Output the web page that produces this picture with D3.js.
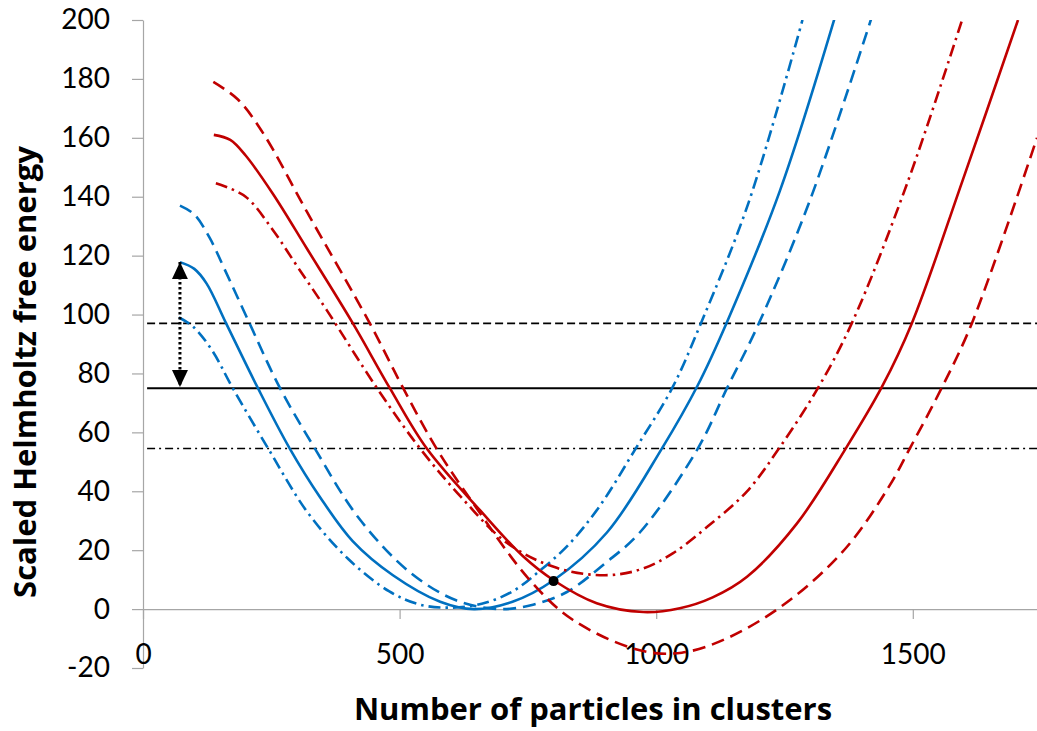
<!DOCTYPE html>
<html>
<head>
<meta charset="utf-8">
<script src="https://cdn.jsdelivr.net/npm/d3@7"></script>
<style>
  body { margin: 0; background: #fff; }
  text { font-family: Lato, "Open Sans", sans-serif; }
</style>
</head>
<body>
<svg id="chart"></svg>
<script>
// [particles, scaled free energy]
const blueSolid = [[72,117.8],[100,115.5],[124,110.5],[162,97],[224,75],[286,54.5],[345,38],[409,23],[487,11.5],[579,2.5],[645,0],[720,2.5],[800,9.8],[904,26],[1011,54.5],[1081,76],[1138,97.5],[1241,142],[1350,202]];
const blueDashed = [[72,137],[100,134],[130,126],[160,115],[205,98],[267,75],[335,54.5],[420,31],[520,12.5],[610,3],[695,0],[760,1.5],[826,5.8],[900,15.5],[968,26],[1081,54.5],[1138,75],[1200,97],[1300,139],[1420,201]];
const blueDashDot = [[70,99],[97,96],[134,88],[175,75],[244,54.5],[320,33],[400,17],[480,6],[540,1.5],[600,0.5],[660,1.8],[720,6],[773,13],[830,22],[890,35],[960,54.5],[1031,75],[1087,97],[1180,138],[1285,200]];
const redSolid = [[138,161],[170,159.3],[200,154],[253,141],[319,122.5],[409,97],[481,75],[553,54.5],[657,33.5],[740,18],[800,9.8],[884,2],[975,-1],[1046,0.3],[1110,4],[1177,11],[1274,29],[1371,55],[1440,75.5],[1498,97],[1598,146],[1705,200]];
const redDashed = [[137,179],[185,173],[234,161.6],[319,135],[442,97],[507,75],[572,54.5],[643,36],[754,9.8],[838,-3.7],[968,-14],[1050,-14.8],[1143,-9.5],[1260,3],[1371,21],[1455,42],[1494,54.5],[1556,75],[1615,97],[1742,160]];
const redDashDot = [[142,144.6],[200,140],[253,128.7],[300,116.5],[358,101.5],[456,75],[540,54.5],[620,38],[709,22.5],[806,14],[900,11.5],[970,13.5],[1033,19],[1100,28],[1177,40],[1241,55],[1315,75],[1381,97],[1490,145],[1596,200]];

const refLevels = [97, 75, 54.5];         // dashed, solid, dash-dot
const refStart = 8;
const arrowN = 72, arrowTop = 117.8, arrowBottom = 75.4;
const crossing = [800, 9.5];

const xTicks = [0, 500, 1000, 1500];
const yTicks = [-20, 0, 20, 40, 60, 80, 100, 120, 140, 160, 180, 200];
const xMax = 1742;

class FreeEnergyChart {
    constructor (config) {
        this.config = {
            parent: config.parent,
            width: config.width || 1037,
            height: config.height || 731,
            margin: config.margin || {top:20, right:0, bottom:63, left:143},
            xlabel: config.xlabel || '',
            ylabel: config.ylabel || ''
        };
        this.init();
    }

    init() {
        let self = this;
        const m = self.config.margin;

        self.svg = d3.select(self.config.parent)
            .attr('width', self.config.width)
            .attr('height', self.config.height);

        self.inner_width = self.config.width - m.left - m.right;
        self.inner_height = self.config.height - m.top - m.bottom;

        self.chart = self.svg.append('g')
            .attr('transform', `translate(${m.left}, ${m.top})`);

        self.xscale = d3.scaleLinear().domain([0, xMax]).range([0, self.inner_width]);
        self.yscale = d3.scaleLinear().domain([-20, 200]).range([self.inner_height, 0]);

        const defs = self.svg.append('defs');
        defs.append('clipPath').attr('id', 'plot-clip')
            .append('rect')
            .attr('x', 0).attr('y', 0)
            .attr('width', self.inner_width).attr('height', self.inner_height);

        defs.append('marker').attr('id', 'tri-up')
            .attr('markerUnits', 'userSpaceOnUse')
            .attr('markerWidth', 16).attr('markerHeight', 17)
            .attr('viewBox', '-8 0 16 17').attr('refX', 0).attr('refY', 0)
            .attr('orient', '0')
            .append('path').attr('d', 'M0,0L8,17L-8,17Z').attr('fill', 'black');
        defs.append('marker').attr('id', 'tri-down')
            .attr('markerUnits', 'userSpaceOnUse')
            .attr('markerWidth', 16).attr('markerHeight', 17)
            .attr('viewBox', '-8 -17 16 17').attr('refX', 0).attr('refY', 0)
            .attr('orient', '0')
            .append('path').attr('d', 'M0,0L8,-17L-8,-17Z').attr('fill', 'black');

        // plain hyphen for negatives, no thousands separator
        self.yaxis = d3.axisLeft(self.yscale)
            .tickValues(yTicks)
            .tickFormat(d => String(d))
            .tickSize(11)
            .tickSizeOuter(0)
            .tickPadding(22);

        self.xaxis = d3.axisBottom(self.xscale)
            .tickValues(xTicks)
            .tickFormat(d => String(d))
            .tickSize(10)
            .tickSizeOuter(0)
            .tickPadding(25);

        self.svg.append('text')
            .attr('transform', `translate(36, 372) rotate(-90)`)
            .attr('text-anchor', 'middle')
            .style('font-family', '"Open Sans", sans-serif')
            .style('font-size', '31px')
            .style('font-weight', 'bold')
            .text(self.config.ylabel);

        self.svg.append('text')
            .attr('x', 593)
            .attr('y', 720)
            .attr('text-anchor', 'middle')
            .style('font-family', '"Open Sans", sans-serif')
            .style('font-size', '31px')
            .style('font-weight', 'bold')
            .text(self.config.xlabel);
    }

    update() {
        let self = this;
        self.series = [
            {data: blueSolid,   color: '#0070C0', dash: null},
            {data: blueDashed,  color: '#0070C0', dash: '13,7'},
            {data: blueDashDot, color: '#0070C0', dash: '12,5,2.5,5'},
            {data: redSolid,    color: '#C00000', dash: null},
            {data: redDashed,   color: '#C00000', dash: '13,7'},
            {data: redDashDot,  color: '#C00000', dash: '12,5,2.5,5'}
        ];
        self.refs = [
            {v: refLevels[0], dash: '8,4', w: 1.6},
            {v: refLevels[1], dash: null, w: 2},
            {v: refLevels[2], dash: '8,4,2,4', w: 1.6}
        ];
        self.line = d3.line()
            .x(d => self.xscale(d[0]))
            .y(d => self.yscale(d[1]))
            .curve(d3.curveCatmullRom.alpha(0.5));
        self.render();
    }

    render() {
        let self = this;

        const yg = self.chart.append('g').call(self.yaxis);
        const xg = self.chart.append('g')
            .attr('transform', `translate(0, ${self.yscale(0)})`)
            .call(self.xaxis);

        [yg, xg].forEach(g => {
            g.selectAll('path, line').attr('stroke', '#a6a6a6').attr('stroke-width', 1.2);
            g.selectAll('text').style('font-size', '28px').attr('fill', '#000')
                .style('font-family', 'Lato, "Open Sans", sans-serif');
        });

        const plot = self.chart.append('g').attr('clip-path', 'url(#plot-clip)');

        plot.selectAll('.ref')
            .data(self.refs)
            .join('line')
            .attr('class', 'ref')
            .attr('x1', self.xscale(refStart))
            .attr('x2', self.xscale(xMax))
            .attr('y1', d => self.yscale(d.v))
            .attr('y2', d => self.yscale(d.v))
            .attr('stroke', 'black')
            .attr('stroke-width', d => d.w)
            .attr('stroke-dasharray', d => d.dash);

        plot.selectAll('.curve')
            .data(self.series)
            .join('path')
            .attr('class', 'curve')
            .attr('d', d => self.line(d.data))
            .attr('fill', 'none')
            .attr('stroke', d => d.color)
            .attr('stroke-width', 2.6)
            .attr('stroke-dasharray', d => d.dash);

        self.chart.append('line')
            .attr('x1', self.xscale(arrowN)).attr('x2', self.xscale(arrowN))
            .attr('y1', self.yscale(arrowTop)).attr('y2', self.yscale(arrowBottom))
            .attr('stroke', 'black')
            .attr('stroke-width', 3)
            .attr('stroke-dasharray', '2.5,2.5')
            .attr('marker-start', 'url(#tri-up)')
            .attr('marker-end', 'url(#tri-down)');

        self.chart.append('circle')
            .attr('cx', self.xscale(crossing[0]))
            .attr('cy', self.yscale(crossing[1]))
            .attr('r', 5)
            .attr('fill', 'black');
    }
}

const chart = new FreeEnergyChart({
    parent: '#chart',
    width: 1037,
    height: 731,
    xlabel: 'Number of particles in clusters',
    ylabel: 'Scaled Helmholtz free energy'
});
chart.update();
</script>
</body>
</html>
